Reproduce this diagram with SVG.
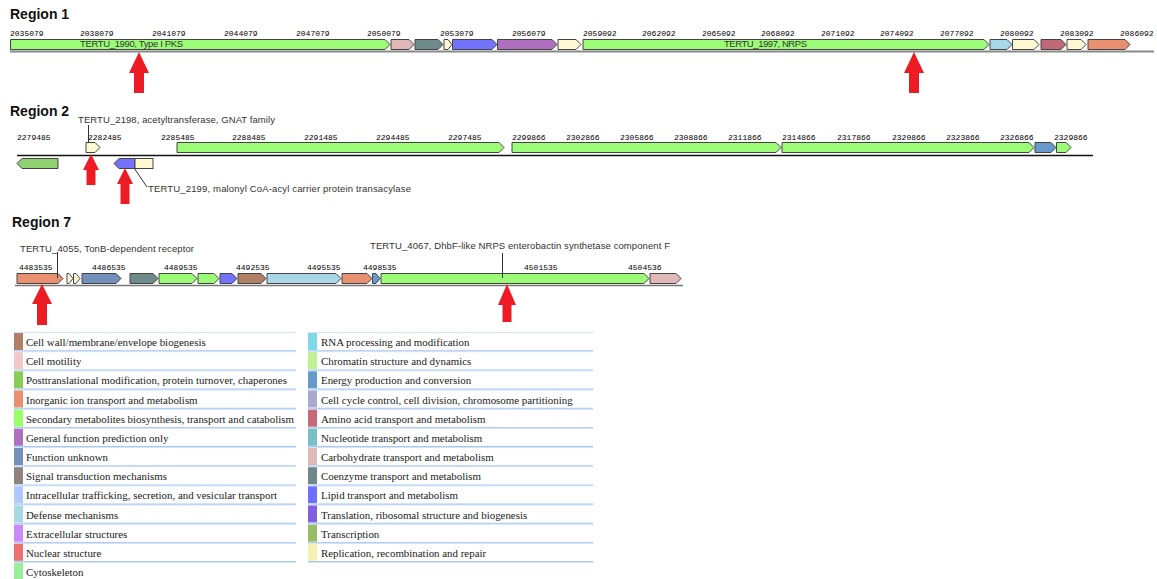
<svg xmlns="http://www.w3.org/2000/svg" width="1157" height="579" viewBox="0 0 1157 579">
<style>
.title{font-family:"Liberation Sans",Arial,sans-serif;font-weight:bold;font-size:14px;fill:#111}
.tick{font-family:"Liberation Mono","DejaVu Sans Mono",monospace;font-size:8px;fill:#000}
.lbl{font-family:"Liberation Sans",Arial,sans-serif;font-size:9.5px;fill:#333}
.leg{font-family:"Liberation Serif","Times New Roman",serif;font-size:10.9px;fill:#1a1a1a}
.g{stroke:#444;stroke-width:1}
.sec{fill:#9cfc78}.carb{fill:#e0b8b8}.coenz{fill:#6f8a8a}.repl{fill:#fff8d2}.lipid{fill:#7272ff}
.gen{fill:#b070c0}.def{fill:#a8d8e8}.amino{fill:#c06878}.inorg{fill:#e89070}.post{fill:#8fd070}
.energy{fill:#6699cc}.funk{fill:#7390bd}.cellwall{fill:#b08068}
.red{fill:#ed1c24}
.lead{stroke:#333;stroke-width:1;fill:none}
.rowtop{stroke:#d2e4fb;stroke-width:1}
.rowbot{stroke:#a9c9f1;stroke-width:1.5}
</style>

<!-- Region 1 -->
<g id="region1">
<text class="title" x="10" y="19">Region 1</text>
<g id="r1-ticks">
<text class="tick" x="10" y="36">2035079</text>
<text class="tick" x="80" y="36">2038079</text>
<text class="tick" x="152" y="36">2041079</text>
<text class="tick" x="224" y="36">2044079</text>
<text class="tick" x="296" y="36">2047079</text>
<text class="tick" x="367" y="36">2050079</text>
<text class="tick" x="440" y="36">2053079</text>
<text class="tick" x="512" y="36">2056079</text>
<text class="tick" x="583" y="36">2059092</text>
<text class="tick" x="642" y="36">2062092</text>
<text class="tick" x="702" y="36">2065092</text>
<text class="tick" x="761" y="36">2068092</text>
<text class="tick" x="821" y="36">2071092</text>
<text class="tick" x="880" y="36">2074092</text>
<text class="tick" x="940" y="36">2077092</text>
<text class="tick" x="1000" y="36">2080092</text>
<text class="tick" x="1060" y="36">2083092</text>
<text class="tick" x="1120" y="36">2086092</text>
</g>
<line x1="10" y1="51.5" x2="1154" y2="51.5" stroke="#888" stroke-width="2"/>
<g id="TERTU_1990"><path class="g sec" d="M10.5 39.5H385L390 44.5L385 49.5H10.5Z"/><text class="lbl" x="80" y="47" textLength="103">TERTU_1990, Type I PKS</text></g>
<g id="r1g2"><path class="g carb" d="M391 39.5H409L414 44.5L409 49.5H391Z"/></g>
<g id="r1g3"><path class="g coenz" d="M415 39.5H438L443 44.5L438 49.5H415Z"/></g>
<g id="r1g4"><path class="g repl" d="M444 39.5H448L452 44.5L448 49.5H444Z"/></g>
<g id="r1g5"><path class="g lipid" d="M452.5 39.5H492L497 44.5L492 49.5H452.5Z"/></g>
<g id="r1g6"><path class="g gen" d="M497.5 39.5H552L557 44.5L552 49.5H497.5Z"/></g>
<g id="r1g7"><path class="g repl" d="M558 39.5H576L581 44.5L576 49.5H558Z"/></g>
<g id="TERTU_1997"><path class="g sec" d="M583 39.5H984L989 44.5L984 49.5H583Z"/><text class="lbl" x="724" y="47" textLength="83">TERTU_1997, NRPS</text></g>
<g id="r1g9"><path class="g def" d="M990 39.5H1007L1012 44.5L1007 49.5H990Z"/></g>
<g id="r1g10"><path class="g repl" d="M1012.5 39.5H1034L1039 44.5L1034 49.5H1012.5Z"/></g>
<g id="r1g11"><path class="g amino" d="M1041 39.5H1061L1066 44.5L1061 49.5H1041Z"/></g>
<g id="r1g12"><path class="g repl" d="M1067 39.5H1081L1086 44.5L1081 49.5H1067Z"/></g>
<g id="r1g13"><path class="g inorg" d="M1088 39.5H1125L1130 44.5L1125 49.5H1088Z"/></g>
</g>

<!-- Region 2 -->
<g id="region2">
<text class="title" x="10" y="116">Region 2</text>
<g id="r2-ticks">
<text class="tick" x="17" y="140">2279485</text>
<text class="tick" x="88" y="140">2282485</text>
<text class="tick" x="161" y="140">2285485</text>
<text class="tick" x="232" y="140">2288485</text>
<text class="tick" x="304" y="140">2291485</text>
<text class="tick" x="376" y="140">2294485</text>
<text class="tick" x="448" y="140">2297485</text>
<text class="tick" x="512" y="140">2299866</text>
<text class="tick" x="566" y="140">2302866</text>
<text class="tick" x="620" y="140">2305866</text>
<text class="tick" x="674" y="140">2308866</text>
<text class="tick" x="728" y="140">2311866</text>
<text class="tick" x="782" y="140">2314866</text>
<text class="tick" x="837" y="140">2317866</text>
<text class="tick" x="892" y="140">2320866</text>
<text class="tick" x="946" y="140">2323866</text>
<text class="tick" x="1000" y="140">2326866</text>
<text class="tick" x="1054" y="140">2329866</text>
</g>
<line x1="17" y1="155.5" x2="1093" y2="155.5" stroke="#111" stroke-width="1.3"/>
<g id="TERTU_2198"><path class="g repl" d="M86 142.5H95L100 147.5L95 152.5H86Z"/><text class="lbl" x="78" y="123" textLength="197">TERTU_2198, acetyltransferase, GNAT family</text></g>
<g id="r2g2"><path class="g sec" d="M177 142.5H499L504 147.5L499 152.5H177Z"/></g>
<g id="r2g3"><path class="g sec" d="M512 142.5H776L781 147.5L776 152.5H512Z"/></g>
<g id="r2g4"><path class="g sec" d="M782 142.5H1029L1034 147.5L1029 152.5H782Z"/></g>
<g id="r2g5"><path class="g energy" d="M1035 142.5H1051L1056 147.5L1051 152.5H1035Z"/></g>
<g id="r2g6"><path class="g sec" d="M1056.5 142.5H1066L1071 147.5L1066 152.5H1056.5Z"/></g>
<g id="r2g7"><path class="g post" d="M58 158.5H22L17 163.5L22 168.5H58Z"/></g>
<g id="TERTU_2199"><path class="g lipid" d="M135 158.5H119L114 163.5L119 168.5H135Z"/><text class="lbl" x="148" y="192" textLength="263">TERTU_2199, malonyl CoA-acyl carrier protein transacylase</text></g>
<g id="r2g9"><rect class="g repl" x="135" y="158.5" width="18" height="10"/></g>
</g>

<!-- Region 7 -->
<g id="region7">
<text class="title" x="12" y="227">Region 7</text>
<g id="r7-ticks">
<text class="tick" x="19" y="270">4483535</text>
<text class="tick" x="92" y="270">4486535</text>
<text class="tick" x="164" y="270">4489535</text>
<text class="tick" x="236" y="270">4492535</text>
<text class="tick" x="307" y="270">4495535</text>
<text class="tick" x="363" y="270">4498535</text>
<text class="tick" x="524" y="270">4501535</text>
<text class="tick" x="628" y="270">4504536</text>
</g>
<line x1="15" y1="285.5" x2="683" y2="285.5" stroke="#777" stroke-width="1.5"/>
<g id="TERTU_4055"><path class="g inorg" d="M17 273.5H58L63 278.5L58 283.5H17Z"/><text class="lbl" x="20" y="251.5" textLength="174">TERTU_4055, TonB-dependent receptor</text></g>
<g id="r7g2"><path class="g repl" d="M67 273.5H69L73 278.5L69 283.5H67Z"/></g>
<g id="r7g3"><path class="g repl" d="M73.5 273.5H76L80 278.5L76 283.5H73.5Z"/></g>
<g id="r7g4"><path class="g funk" d="M82 273.5H116L121 278.5L116 283.5H82Z"/></g>
<g id="r7g5"><path class="g coenz" d="M130 273.5H153L158 278.5L153 283.5H130Z"/></g>
<g id="r7g6"><path class="g sec" d="M159 273.5H192L197 278.5L192 283.5H159Z"/></g>
<g id="r7g7"><path class="g sec" d="M198 273.5H214L219 278.5L214 283.5H198Z"/></g>
<g id="r7g8"><path class="g lipid" d="M220 273.5H232L237 278.5L232 283.5H220Z"/></g>
<g id="r7g9"><path class="g cellwall" d="M238 273.5H261L266 278.5L261 283.5H238Z"/></g>
<g id="r7g10"><path class="g def" d="M267 273.5H336L341 278.5L336 283.5H267Z"/></g>
<g id="r7g11"><path class="g inorg" d="M342 273.5H367L372 278.5L367 283.5H342Z"/></g>
<g id="r7g12"><path class="g energy" d="M372.5 273.5H376L380 278.5L376 283.5H372.5Z"/></g>
<g id="TERTU_4067"><path class="g sec" d="M381 273.5H644L649 278.5L644 283.5H381Z"/><text class="lbl" x="370" y="249" textLength="300">TERTU_4067, DhbF-like NRPS enterobactin synthetase component F</text></g>
<g id="r7g14"><path class="g carb" d="M650 273.5H676L681 278.5L676 283.5H650Z"/></g>
</g>

<!-- connectors: leader lines and pointer arrows -->
<g id="connectors">
<line class="lead" x1="88.5" y1="125" x2="88.5" y2="143"/>
<line class="lead" x1="134" y1="168" x2="147" y2="187"/>
<line class="lead" x1="57.5" y1="252" x2="57.5" y2="278"/>
<line class="lead" x1="502.5" y1="253" x2="502.5" y2="278"/>
<path class="red" d="M139 52L149 73H144V93H134V73H129Z"/>
<path class="red" d="M914 52L924 73H919V93H909V73H904Z"/>
<path class="red" d="M91 154L99 170H95.5V185H86.5V170H83Z"/>
<path class="red" d="M125 168L133 184H129.5V204H120.5V184H117Z"/>
<path class="red" d="M42 284L52 304H47V325H37V304H32Z"/>
<path class="red" d="M507 284L516 305H511.5V322H502.5V305H498Z"/>
</g>

<!-- Legend -->
<g id="legend">
<g id="leg-left">
<g><line class="rowtop" x1="14" y1="332.5" x2="296" y2="332.5"/><rect x="14" y="333" width="9" height="17" fill="#b07f65"/><line class="rowbot" x1="14" y1="351" x2="296" y2="351"/><text class="leg" x="26" y="346">Cell wall/membrane/envelope biogenesis</text></g>
<g><line class="rowtop" x1="14" y1="351.7" x2="296" y2="351.7"/><rect x="14" y="352.2" width="9" height="17" fill="#f0c8c8"/><line class="rowbot" x1="14" y1="370.2" x2="296" y2="370.2"/><text class="leg" x="26" y="365.2">Cell motility</text></g>
<g><line class="rowtop" x1="14" y1="370.8" x2="296" y2="370.8"/><rect x="14" y="371.3" width="9" height="17" fill="#88cc55"/><line class="rowbot" x1="14" y1="389.3" x2="296" y2="389.3"/><text class="leg" x="26" y="384.3">Posttranslational modification, protein turnover, chaperones</text></g>
<g><line class="rowtop" x1="14" y1="390" x2="296" y2="390"/><rect x="14" y="390.5" width="9" height="17" fill="#e89070"/><line class="rowbot" x1="14" y1="408.5" x2="296" y2="408.5"/><text class="leg" x="26" y="403.5">Inorganic ion transport and metabolism</text></g>
<g><line class="rowtop" x1="14" y1="409.2" x2="296" y2="409.2"/><rect x="14" y="409.7" width="9" height="17" fill="#99ff66"/><line class="rowbot" x1="14" y1="427.7" x2="296" y2="427.7"/><text class="leg" x="26" y="422.7">Secondary metabolites biosynthesis, transport and catabolism</text></g>
<g><line class="rowtop" x1="14" y1="428.3" x2="296" y2="428.3"/><rect x="14" y="428.8" width="9" height="17" fill="#b070c0"/><line class="rowbot" x1="14" y1="446.8" x2="296" y2="446.8"/><text class="leg" x="26" y="441.8">General function prediction only</text></g>
<g><line class="rowtop" x1="14" y1="447.5" x2="296" y2="447.5"/><rect x="14" y="448" width="9" height="17" fill="#7390b8"/><line class="rowbot" x1="14" y1="466" x2="296" y2="466"/><text class="leg" x="26" y="461">Function unknown</text></g>
<g><line class="rowtop" x1="14" y1="466.7" x2="296" y2="466.7"/><rect x="14" y="467.2" width="9" height="17" fill="#908080"/><line class="rowbot" x1="14" y1="485.2" x2="296" y2="485.2"/><text class="leg" x="26" y="480.2">Signal transduction mechanisms</text></g>
<g><line class="rowtop" x1="14" y1="485.8" x2="296" y2="485.8"/><rect x="14" y="486.3" width="9" height="17" fill="#b0c8ff"/><line class="rowbot" x1="14" y1="504.3" x2="296" y2="504.3"/><text class="leg" x="26" y="499.3">Intracellular trafficking, secretion, and vesicular transport</text></g>
<g><line class="rowtop" x1="14" y1="505" x2="296" y2="505"/><rect x="14" y="505.5" width="9" height="17" fill="#a8d8e0"/><line class="rowbot" x1="14" y1="523.5" x2="296" y2="523.5"/><text class="leg" x="26" y="518.5">Defense mechanisms</text></g>
<g><line class="rowtop" x1="14" y1="524.2" x2="296" y2="524.2"/><rect x="14" y="524.7" width="9" height="17" fill="#cc88ff"/><line class="rowbot" x1="14" y1="542.7" x2="296" y2="542.7"/><text class="leg" x="26" y="537.7">Extracellular structures</text></g>
<g><line class="rowtop" x1="14" y1="543.3" x2="296" y2="543.3"/><rect x="14" y="543.8" width="9" height="17" fill="#f07070"/><line class="rowbot" x1="14" y1="561.8" x2="296" y2="561.8"/><text class="leg" x="26" y="556.8">Nuclear structure</text></g>
<g><line class="rowtop" x1="14" y1="562.5" x2="296" y2="562.5"/><rect x="14" y="563" width="9" height="17" fill="#99ee99"/><text class="leg" x="26" y="576">Cytoskeleton</text></g>
</g>
<g id="leg-right">
<g><line class="rowtop" x1="308" y1="332.5" x2="593" y2="332.5"/><rect x="308" y="333" width="9" height="17" fill="#80d8e8"/><line class="rowbot" x1="308" y1="351" x2="593" y2="351"/><text class="leg" x="321" y="346">RNA processing and modification</text></g>
<g><line class="rowtop" x1="308" y1="351.7" x2="593" y2="351.7"/><rect x="308" y="352.2" width="9" height="17" fill="#c0f090"/><line class="rowbot" x1="308" y1="370.2" x2="593" y2="370.2"/><text class="leg" x="321" y="365.2">Chromatin structure and dynamics</text></g>
<g><line class="rowtop" x1="308" y1="370.8" x2="593" y2="370.8"/><rect x="308" y="371.3" width="9" height="17" fill="#6699cc"/><line class="rowbot" x1="308" y1="389.3" x2="593" y2="389.3"/><text class="leg" x="321" y="384.3">Energy production and conversion</text></g>
<g><line class="rowtop" x1="308" y1="390" x2="593" y2="390"/><rect x="308" y="390.5" width="9" height="17" fill="#a8a8d0"/><line class="rowbot" x1="308" y1="408.5" x2="593" y2="408.5"/><text class="leg" x="321" y="403.5">Cell cycle control, cell division, chromosome partitioning</text></g>
<g><line class="rowtop" x1="308" y1="409.2" x2="593" y2="409.2"/><rect x="308" y="409.7" width="9" height="17" fill="#c86878"/><line class="rowbot" x1="308" y1="427.7" x2="593" y2="427.7"/><text class="leg" x="321" y="422.7">Amino acid transport and metabolism</text></g>
<g><line class="rowtop" x1="308" y1="428.3" x2="593" y2="428.3"/><rect x="308" y="428.8" width="9" height="17" fill="#78c0c8"/><line class="rowbot" x1="308" y1="446.8" x2="593" y2="446.8"/><text class="leg" x="321" y="441.8">Nucleotide transport and metabolism</text></g>
<g><line class="rowtop" x1="308" y1="447.5" x2="593" y2="447.5"/><rect x="308" y="448" width="9" height="17" fill="#e0b8b8"/><line class="rowbot" x1="308" y1="466" x2="593" y2="466"/><text class="leg" x="321" y="461">Carbohydrate transport and metabolism</text></g>
<g><line class="rowtop" x1="308" y1="466.7" x2="593" y2="466.7"/><rect x="308" y="467.2" width="9" height="17" fill="#708888"/><line class="rowbot" x1="308" y1="485.2" x2="593" y2="485.2"/><text class="leg" x="321" y="480.2">Coenzyme transport and metabolism</text></g>
<g><line class="rowtop" x1="308" y1="485.8" x2="593" y2="485.8"/><rect x="308" y="486.3" width="9" height="17" fill="#7070ff"/><line class="rowbot" x1="308" y1="504.3" x2="593" y2="504.3"/><text class="leg" x="321" y="499.3">Lipid transport and metabolism</text></g>
<g><line class="rowtop" x1="308" y1="505" x2="593" y2="505"/><rect x="308" y="505.5" width="9" height="17" fill="#8060e0"/><line class="rowbot" x1="308" y1="523.5" x2="593" y2="523.5"/><text class="leg" x="321" y="518.5">Translation, ribosomal structure and biogenesis</text></g>
<g><line class="rowtop" x1="308" y1="524.2" x2="593" y2="524.2"/><rect x="308" y="524.7" width="9" height="17" fill="#99bb66"/><line class="rowbot" x1="308" y1="542.7" x2="593" y2="542.7"/><text class="leg" x="321" y="537.7">Transcription</text></g>
<g><line class="rowtop" x1="308" y1="543.3" x2="593" y2="543.3"/><rect x="308" y="543.8" width="9" height="17" fill="#f8f0b0"/><line class="rowbot" x1="308" y1="561.8" x2="593" y2="561.8"/><text class="leg" x="321" y="556.8">Replication, recombination and repair</text></g>
</g>
</g>
</svg>
